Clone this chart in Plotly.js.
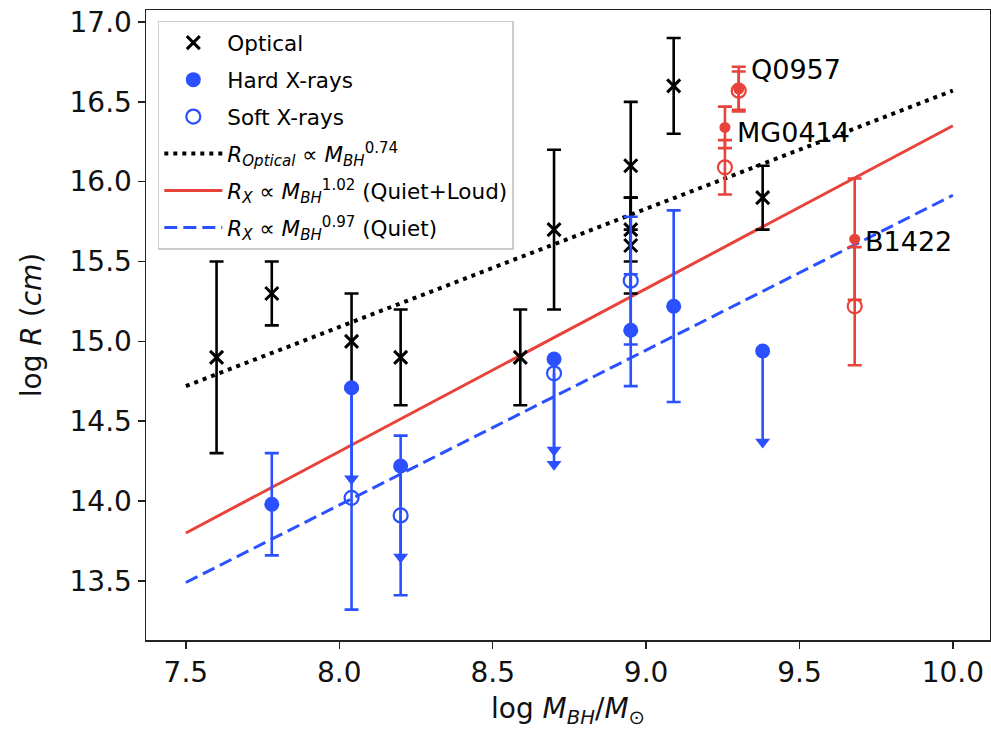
<!DOCTYPE html>
<html>
<head>
<meta charset="utf-8">
<script src="https://cdn.plot.ly/plotly-3.0.1.min.js"></script>
<style>html,body{margin:0;padding:0;background:#fff;}#chart{width:991px;height:733px;}</style>
</head>
<body>
<div id="chart"></div>
<script>
// ---------- Data ----------
// Optical sizes
const optX = [7.60, 7.78, 8.04, 8.20, 8.59, 8.70, 8.95, 8.95, 8.95, 9.09, 9.38];
const optY = [14.9, 15.3, 15.0, 14.9, 14.9, 15.7, 16.1, 15.7, 15.6, 16.6, 15.9];
const optErr = [0.6, 0.2, 0.3, 0.3, 0.3, 0.5, 0.4, 0.2, 0.3, 0.3, 0.2];

// Hard X-ray measurements (with error bars)
const hardX = [7.78, 8.95, 9.09];
const hardY = [13.98, 15.07, 15.22];
const hardErr = [0.32, 0.35, 0.6];
// Hard X-ray upper limits
const hardLimX = [8.04, 8.20, 8.70, 9.38];
const hardLimY = [14.71, 14.22, 14.89, 14.94];
const hardLimLen = [0.6, 0.6, 0.6, 0.6];

// Soft X-ray measurements
const softX = [8.04, 8.20, 8.95];
const softY = [14.02, 13.91, 15.38];
const softErr = [0.7, 0.5, 0.4];
// Soft X-ray upper limits
const softLimX = [8.70];
const softLimY = [14.80];
const softLimLen = [0.6];

// Radio-loud lenses (red)
const loudNames = ["MG0414", "Q0957", "B1422"];
const loudX = [9.257, 9.302, 9.68];
const loudHardY = [16.34, 16.58, 15.64];
const loudHardErr = [0.13, 0.14, 0.38];
const loudSoftY = [16.09, 16.57, 15.22];
const loudSoftErr = [0.17, 0.12, 0.37];
const labelX = [9.29, 9.335, 9.707];
const labelY = [16.31, 16.70, 15.625];

// Fits (endpoints)
const fitX = [7.5, 10.0];
const fitOptY = [14.72, 16.57];
const fitAllY = [13.80, 16.35];
const fitQuietY = [13.49, 15.915];

// Legend labels
const legendNames = [
  "Optical", "Hard X-rays", "Soft X-rays",
  "<i>R</i><sub><i>Optical</i></sub> \u221d <i>M</i><sub><i>BH</i></sub><sup>0.74</sup>",
  "<i>R</i><sub><i>X</i></sub> \u221d <i>M</i><sub><i>BH</i></sub><sup>1.02</sup> (Quiet+Loud)",
  "<i>R</i><sub><i>X</i></sub> \u221d <i>M</i><sub><i>BH</i></sub><sup>0.97</sup> (Quiet)"
];
const xTicks = [7.5, 8.0, 8.5, 9.0, 9.5, 10.0];
const yTicks = [13.5, 14.0, 14.5, 15.0, 15.5, 16.0, 16.5, 17.0];

// ---------- Styles ----------
const BLUE = "#2a50ff";
const RED = "#e8433a";
const EB = (arr, arrm, color, w) => ({type: "data", symmetric: false, array: arr, arrayminus: arrm,
  color: color, thickness: 2.6, width: w === undefined ? 7 : w, visible: true});
const zeros = n => new Array(n).fill(0);

const traces = [];
// Fit lines
traces.push({x: fitX, y: fitOptY, mode: "lines", name: legendNames[3], legendgroup: "g4",
  line: {color: "black", width: 4, dash: "4px,5px"}, legendrank: 4});
traces.push({x: fitX, y: fitAllY, mode: "lines", name: legendNames[4], legendgroup: "g5",
  line: {color: RED, width: 3}, legendrank: 5});
traces.push({x: fitX, y: fitQuietY, mode: "lines", name: legendNames[5], legendgroup: "g6",
  line: {color: BLUE, width: 3, dash: "13px,6px"}, legendrank: 6});

// Optical
traces.push({x: optX, y: optY, mode: "markers", name: legendNames[0], legendrank: 1, legendgroup: "g1",
  marker: {symbol: "x-thin", size: 13, color: "black", line: {color: "black", width: 3}},
  error_y: EB(optErr, optErr, "black")});

// Soft X-rays
traces.push({x: softX, y: softY, mode: "markers", name: legendNames[2], legendrank: 3, legendgroup: "g3",
  marker: {symbol: "circle-open", size: 14, color: BLUE, line: {color: BLUE, width: 2.2}},
  error_y: EB(softErr, softErr, BLUE)});
traces.push({x: softLimX, y: softLimY, mode: "markers", showlegend: false,
  marker: {symbol: "circle-open", size: 14, color: BLUE, line: {color: BLUE, width: 2.2}},
  error_y: EB(zeros(softLimX.length), softLimLen, BLUE, 0)});
traces.push({x: softLimX, y: softLimY.map((v, i) => v - softLimLen[i] + 0.03), mode: "markers", showlegend: false,
  marker: {symbol: "triangle-down", size: 13, color: BLUE}});

// Hard X-rays
traces.push({x: hardX, y: hardY, mode: "markers", name: legendNames[1], legendrank: 2, legendgroup: "g2",
  marker: {symbol: "circle", size: 15, color: BLUE},
  error_y: EB(hardErr, hardErr, BLUE)});
traces.push({x: hardLimX, y: hardLimY, mode: "markers", showlegend: false,
  marker: {symbol: "circle", size: 15, color: BLUE},
  error_y: EB(zeros(hardLimX.length), hardLimLen, BLUE, 0)});
traces.push({x: hardLimX, y: hardLimY.map((v, i) => v - hardLimLen[i] + 0.03), mode: "markers", showlegend: false,
  marker: {symbol: "triangle-down", size: 13, color: BLUE}});

// Radio-loud (red)
traces.push({x: loudX, y: loudSoftY, mode: "markers", showlegend: false,
  marker: {symbol: "circle-open", size: 14, color: RED, line: {color: RED, width: 2.2}},
  error_y: EB(loudSoftErr, loudSoftErr, RED)});
traces.push({x: loudX, y: loudHardY, mode: "markers", showlegend: false,
  marker: {symbol: "circle", size: 11, color: RED},
  error_y: EB(loudHardErr, loudHardErr, RED)});

const annotations = loudNames.map((t, i) => ({
  x: labelX[i], y: labelY[i], xref: "x", yref: "y", text: t, showarrow: false,
  xanchor: "left", yanchor: "middle", font: {family: "DejaVu Sans", size: 27, color: "black"}
}));

const axisCommon = {
  showline: true, mirror: true, linecolor: "#222", linewidth: 1.5,
  ticks: "outside", ticklen: 7, tickwidth: 1.5, tickcolor: "#222",
  showgrid: false, zeroline: false,
  tickfont: {family: "DejaVu Sans", size: 28, color: "#111"}
};

const layout = {
  width: 991, height: 733,
  margin: {l: 146, r: 1, t: 10, b: 93},
  paper_bgcolor: "white", plot_bgcolor: "white",
  showlegend: true,
  legend: {x: 0.014, y: 0.983, xanchor: "left", yanchor: "top",
    bgcolor: "rgba(255,255,255,0.85)", bordercolor: "#cccccc", borderwidth: 1.5,
    font: {family: "DejaVu Sans", size: 21.5, color: "black"}, traceorder: "grouped",
    tracegroupgap: 6, itemwidth: 58},
  xaxis: Object.assign({}, axisCommon, {range: [7.37, 10.121], tickvals: xTicks,
    ticktext: xTicks.map(v => v.toFixed(1)),
    title: {text: "log <i>M</i><sub><i>BH</i></sub>/<i>M</i><sub>\u2299</sub>", standoff: 10,
      font: {family: "DejaVu Sans", size: 28, color: "#111"}}}),
  yaxis: Object.assign({}, axisCommon, {range: [13.13, 17.075], tickvals: yTicks,
    ticktext: yTicks.map(v => v.toFixed(1)),
    title: {text: "log <i>R</i> (<i>cm</i>)", standoff: 20,
      font: {family: "DejaVu Sans", size: 28, color: "#111"}}}),
  annotations: annotations
};

Plotly.newPlot("chart", traces, layout, {staticPlot: true, displayModeBar: false});
</script>
</body>
</html>
